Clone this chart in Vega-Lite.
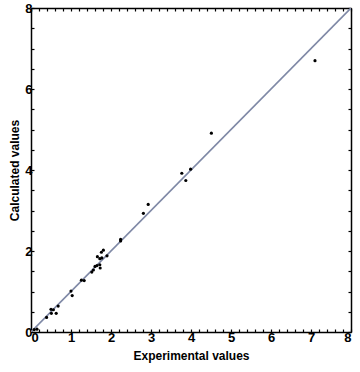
{
  "$schema": "https://vega.github.io/schema/vega-lite/v6.json",
  "width": 320,
  "height": 324,
  "autosize": "none",
  "padding": {"left": 31, "top": 8, "right": 9, "bottom": 40},
  "background": "white",
  "config": {
    "view": {"stroke": null},
    "axis": {"grid": false, "domainColor": "black", "domainWidth": 1.5, "tickColor": "black", "tickWidth": 1.2, "labelFont": "Liberation Sans", "labelFontWeight": "bold", "labelFontSize": 13, "labelColor": "black", "titleFont": "Liberation Sans", "titleFontWeight": "bold", "titleFontSize": 12, "titleColor": "black"}
  },
  "datasets": {
    "pts": [
      {"exp": 0.08, "calc": 0.06},
      {"exp": 0.15, "calc": 0.07},
      {"exp": 0.39, "calc": 0.36},
      {"exp": 0.5, "calc": 0.56},
      {"exp": 0.56, "calc": 0.55},
      {"exp": 0.51, "calc": 0.46},
      {"exp": 0.63, "calc": 0.46},
      {"exp": 0.68, "calc": 0.64},
      {"exp": 1.0, "calc": 1.01},
      {"exp": 1.03, "calc": 0.9},
      {"exp": 1.26, "calc": 1.28},
      {"exp": 1.33, "calc": 1.27},
      {"exp": 1.52, "calc": 1.48},
      {"exp": 1.56, "calc": 1.53},
      {"exp": 1.6, "calc": 1.62},
      {"exp": 1.65, "calc": 1.64},
      {"exp": 1.72, "calc": 1.66},
      {"exp": 1.73, "calc": 1.58},
      {"exp": 1.66, "calc": 1.86},
      {"exp": 1.72, "calc": 1.81},
      {"exp": 1.77, "calc": 1.83},
      {"exp": 1.76, "calc": 1.97},
      {"exp": 1.81, "calc": 2.02},
      {"exp": 1.9, "calc": 1.88},
      {"exp": 2.24, "calc": 2.25},
      {"exp": 2.24, "calc": 2.29},
      {"exp": 2.81, "calc": 2.93},
      {"exp": 2.93, "calc": 3.15},
      {"exp": 3.77, "calc": 3.92},
      {"exp": 3.87, "calc": 3.74},
      {"exp": 3.99, "calc": 4.02},
      {"exp": 4.51, "calc": 4.91},
      {"exp": 7.1, "calc": 6.7}
    ],
    "line": [
      {"exp": 0, "calc": 0},
      {"exp": 8, "calc": 8}
    ]
  },
  "layer": [
    {
      "data": {"name": "line"},
      "mark": {"type": "line", "color": "#7f89a6", "strokeWidth": 1.6, "clip": true},
      "encoding": {
        "x": {"field": "exp", "type": "quantitative", "scale": {"domain": [0, 8], "nice": false, "zero": false},
          "axis": {"orient": "top", "title": null, "labels": false, "values": [0,0.2,0.4,0.6,0.8,1,1.2,1.4,1.6,1.8,2,2.2,2.4,2.6,2.8,3,3.2,3.4,3.6,3.8,4,4.2,4.4,4.6,4.8,5,5.2,5.4,5.6,5.8,6,6.2,6.4,6.6,6.8,7,7.2,7.4,7.6,7.8,8], "tickSize": -3}},
        "y": {"field": "calc", "type": "quantitative", "scale": {"domain": [0, 8], "nice": false, "zero": false},
          "axis": {"orient": "right", "title": null, "labels": false, "values": [0,0.5,1,1.5,2,2.5,3,3.5,4,4.5,5,5.5,6,6.5,7,7.5,8], "tickSize": -3}}
      }
    },
    {
      "data": {"name": "pts"},
      "mark": {"type": "circle", "color": "black", "size": 10, "opacity": 1},
      "encoding": {
        "x": {"field": "exp", "type": "quantitative", "scale": {"domain": [0, 8], "nice": false, "zero": false},
          "axis": {"orient": "bottom", "title": "Experimental values", "titlePadding": 6, "labelPadding": 2, "values": [0,0.2,0.4,0.6,0.8,1,1.2,1.4,1.6,1.8,2,2.2,2.4,2.6,2.8,3,3.2,3.4,3.6,3.8,4,4.2,4.4,4.6,4.8,5,5.2,5.4,5.6,5.8,6,6.2,6.4,6.6,6.8,7,7.2,7.4,7.6,7.8,8], "labelExpr": "abs(datum.value - round(datum.value)) < 0.01 ? format(round(datum.value), 'd') : ''", "tickSize": -3}},
        "y": {"field": "calc", "type": "quantitative", "scale": {"domain": [0, 8], "nice": false, "zero": false},
          "axis": {"orient": "left", "title": "Calculated values", "titlePadding": 3, "labelPadding": 2, "values": [0,0.5,1,1.5,2,2.5,3,3.5,4,4.5,5,5.5,6,6.5,7,7.5,8], "labelExpr": "datum.value % 2 == 0 ? format(datum.value, 'd') : ''", "tickSize": -3}}
      }
    }
  ],
  "resolve": {"axis": {"x": "independent", "y": "independent"}}
}
